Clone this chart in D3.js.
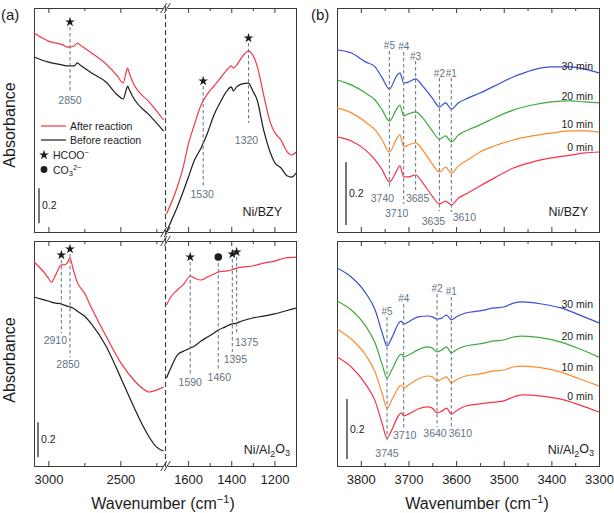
<!DOCTYPE html>
<html><head><meta charset="utf-8">
<script src="https://cdn.jsdelivr.net/npm/d3@7"></script>
<style>body{margin:0;background:#fff}svg{display:block}</style>
</head><body><svg id="c" width="614" height="513"></svg>
<script>
// ---------------- DATA ----------------
// Panel (a) top: Ni/BZY, high-wavenumber segment
const aTopWnL = [3100,3000,2900,2870,2850,2820,2800,2780,2700,2600,2520,2480,2460,2450,2440,2420,2400,2300,2200];
const aTopAfterL = [1.137,1.091,1.069,1.057,1.057,1.063,1.080,1.069,1.023,0.960,0.891,0.851,0.914,0.937,0.914,0.869,0.834,0.743,0.640];
const aTopBeforeL = [1.000,0.971,0.954,0.949,0.949,0.949,0.966,0.954,0.909,0.857,0.783,0.760,0.811,0.834,0.817,0.783,0.754,0.669,0.577];
// Panel (a) top: low-wavenumber segment
const aTopWnR = [1700,1680,1650,1620,1600,1570,1540,1510,1480,1450,1420,1400,1390,1375,1350,1320,1300,1280,1250,1220,1200,1170,1140,1120,1100];
const aTopAfterR = [0.103,0.160,0.257,0.383,0.497,0.617,0.726,0.789,0.834,0.880,0.926,0.949,0.937,0.954,1.000,1.034,1.011,0.949,0.783,0.629,0.571,0.526,0.457,0.440,0.457];
const aTopBeforeR = [0.000,0.057,0.143,0.240,0.309,0.411,0.480,0.566,0.669,0.743,0.806,0.829,0.806,0.829,0.846,0.851,0.806,0.754,0.583,0.457,0.400,0.366,0.320,0.314,0.337];
// Panel (a) bottom: Ni/Al2O3
const aBotWnL = [3100,3050,3000,2980,2950,2910,2890,2870,2850,2830,2800,2750,2700,2600,2500,2400,2350,2300,2250,2200];
const aBotAfterL = [1.166,1.126,1.074,1.051,1.091,1.149,1.149,1.160,1.189,1.131,1.051,0.989,0.903,0.743,0.594,0.486,0.446,0.423,0.434,0.451];
const aBotBeforeL = [0.966,0.954,0.943,0.937,0.931,0.926,0.920,0.914,0.909,0.903,0.886,0.857,0.811,0.686,0.509,0.326,0.240,0.166,0.109,0.086];
const aBotWnR = [1700,1680,1650,1620,1590,1570,1540,1510,1480,1460,1430,1400,1375,1350,1300,1250,1200,1150,1100];
const aBotAfterR = [0.920,0.966,1.006,1.040,1.086,1.074,1.063,1.080,1.097,1.109,1.114,1.120,1.131,1.137,1.143,1.160,1.171,1.189,1.194];
const aBotBeforeR = [0.503,0.560,0.634,0.657,0.674,0.686,0.714,0.737,0.760,0.777,0.794,0.811,0.817,0.829,0.846,0.857,0.869,0.886,0.903];

// Panel (b) top: Ni/BZY, time series
const bTopWn = [3850,3820,3790,3770,3755,3740,3725,3718,3710,3700,3685,3670,3650,3635,3622,3610,3595,3575,3550,3520,3480,3440,3400,3360,3330,3300];
const bTop30 = [0.578,0.568,0.540,0.524,0.489,0.454,0.495,0.505,0.473,0.476,0.486,0.463,0.425,0.397,0.410,0.390,0.410,0.425,0.441,0.463,0.492,0.514,0.524,0.524,0.517,0.505];
const bTop20 = [0.483,0.467,0.441,0.419,0.387,0.352,0.390,0.403,0.368,0.375,0.381,0.362,0.321,0.295,0.305,0.286,0.308,0.324,0.340,0.362,0.387,0.403,0.413,0.416,0.413,0.410];
const bTop10 = [0.394,0.378,0.349,0.324,0.292,0.254,0.295,0.308,0.270,0.276,0.283,0.260,0.216,0.190,0.206,0.187,0.210,0.229,0.254,0.273,0.292,0.305,0.314,0.321,0.321,0.317];
const bTop0  = [0.302,0.289,0.260,0.229,0.197,0.159,0.194,0.210,0.175,0.175,0.181,0.156,0.114,0.089,0.098,0.086,0.108,0.124,0.146,0.171,0.203,0.222,0.235,0.244,0.251,0.254];
// Panel (b) bottom: Ni/Al2O3
const bBotWn = [3850,3820,3790,3770,3755,3745,3735,3720,3715,3710,3700,3680,3660,3650,3640,3630,3620,3610,3600,3580,3550,3520,3500,3480,3460,3420,3380,3340,3300];
const bBot30 = [0.660,0.630,0.577,0.520,0.443,0.400,0.427,0.477,0.483,0.473,0.480,0.497,0.500,0.497,0.490,0.493,0.503,0.487,0.497,0.510,0.517,0.527,0.530,0.543,0.547,0.540,0.527,0.503,0.477];
const bBot20 = [0.550,0.520,0.467,0.410,0.337,0.293,0.320,0.367,0.373,0.363,0.370,0.387,0.397,0.393,0.380,0.387,0.397,0.377,0.387,0.400,0.407,0.417,0.420,0.430,0.433,0.427,0.413,0.390,0.363];
const bBot10 = [0.457,0.423,0.370,0.313,0.240,0.193,0.220,0.263,0.270,0.260,0.270,0.290,0.300,0.297,0.283,0.290,0.297,0.277,0.287,0.300,0.307,0.317,0.320,0.330,0.333,0.327,0.313,0.290,0.267];
const bBot0  = [0.363,0.330,0.273,0.217,0.140,0.093,0.120,0.170,0.177,0.167,0.173,0.190,0.197,0.193,0.177,0.183,0.193,0.173,0.183,0.200,0.207,0.213,0.217,0.230,0.237,0.233,0.223,0.203,0.180];
const timeLabels = ["30 min","20 min","10 min","0 min"];

// Peak annotations
const aTopPeaks = [2850,1530,1320];
const aTopPeakLabels = ["2850","1530","1320"];
const aBotPeaks = [2910,2850,1590,1460,1395,1375];
const aBotPeakLabels = ["2910","2850","1590","1460","1395","1375"];
const aBotPeakSpecies = ["HCOO","HCOO","HCOO","CO3","HCOO","HCOO"];
const bTopPeaks = [3740,3710,3685,3635,3610];
const bTopPeakIds = ["#5","#4","#3","#2","#1"];
const bBotPeaks = [3745,3710,3640,3610];
const bBotPeakIds = ["#5","#4","#2","#1"];

// tick values
const aTicksMajorL = [3000,2500], aTicksMinorL = [2750,2250];
const aTicksMajorR = [1600,1400,1200], aTicksMinorR = [1500,1300];
const bTicksMajor = [3800,3700,3600,3500,3400,3300], bTicksMinor = [3750,3650,3550,3450,3350];

// ---------------- LAYOUT / STYLE ----------------
const FONT = '"Liberation Sans", Arial, Helvetica, sans-serif';
const RED="#f43648", BLK="#1c1c1c", BLUE="#3a4fd2", GREEN="#3cab3c", ORANGE="#fb8b2e", GRAY="#5f7482", DGRAY="#6f7e89", FRAME="#3a3a3a";
const svg = d3.select("#c").attr("font-family", FONT);

const TOPY = [8,232], BOTY = [241,466];
const xAL = d3.scaleLinear().domain([3100,2190]).range([34,165]);
const xAR = d3.scaleLinear().domain([1700,1100]).range([166.5,296]);
const xB  = d3.scaleLinear().domain([3850,3300]).range([337,599]);
const yTL = d3.scaleLinear().domain([0,1.28]).range([232,8]);
const yBL = d3.scaleLinear().domain([0,1.286]).range([466,241]);
const yTR = d3.scaleLinear().domain([0,0.711]).range([232,8]);
const yBR = d3.scaleLinear().domain([0,0.75]).range([466,241]);

function lineOf(x, y, wn, vals, color, w){
  const pts = wn.map((d,i)=>[d, vals[i]]);
  svg.append("path").datum(pts)
    .attr("fill","none").attr("stroke",color).attr("stroke-width",w||1.2)
    .attr("stroke-linejoin","round")
    .attr("d", d3.line().x(d=>x(d[0])).y(d=>y(d[1])).curve(d3.curveMonotoneX));
}

function tickRow(x, yb, yt, majors, minors, showLabels){
  const mk = (vals, size, lab) => {
    const gb = svg.append("g").attr("transform",`translate(0,${yb})`)
      .call(d3.axisBottom(x).tickValues(vals).tickSizeInner(-size).tickSizeOuter(0).tickPadding(9)
        .tickFormat(lab ? d3.format("d") : ""));
    const gt = svg.append("g").attr("transform",`translate(0,${yt})`)
      .call(d3.axisTop(x).tickValues(vals).tickSizeInner(-size).tickSizeOuter(0).tickFormat(""));
    [gb,gt].forEach(g=>{
      g.select(".domain").remove();
      g.selectAll("line").attr("stroke",FRAME).attr("stroke-width",1);
      g.attr("font-family",FONT).attr("font-size",13);
      g.selectAll("text").attr("fill",BLK);
    });
  };
  mk(majors, 5, showLabels);
  mk(minors, 3, false);
}

function frame(x0,x1,y0,y1){
  svg.append("rect").attr("x",x0+0.5).attr("y",y0+0.5).attr("width",x1-x0-1).attr("height",y1-y0-1)
    .attr("fill","none").attr("stroke",FRAME).attr("stroke-width",1);
}

// frames
frame(34,297,TOPY[0],TOPY[1]+1);
frame(34,297,BOTY[0],BOTY[1]+1);
frame(337,600,TOPY[0],TOPY[1]+1);
frame(337,600,BOTY[0],BOTY[1]+1);

// ticks
[[TOPY,false],[BOTY,true]].forEach(([yy,lab])=>{
  tickRow(xAL, yy[1], yy[0], aTicksMajorL, aTicksMinorL, lab);
  tickRow(xAR, yy[1], yy[0], aTicksMajorR, aTicksMinorR, lab);
  tickRow(xB, yy[1], yy[0], bTicksMajor, bTicksMinor, lab);
});

// break marks + dashed vertical
const BX = 165.5;
[TOPY[0],TOPY[1],BOTY[0],BOTY[1]].forEach(e=>{
  svg.append("rect").attr("x",BX-2.5).attr("y",e-1.5).attr("width",5).attr("height",3).attr("fill","#fff");
  [-1.8,1.8].forEach(o=>{
    svg.append("line").attr("x1",BX+o-3).attr("y1",e+5).attr("x2",BX+o+3).attr("y2",e-5)
      .attr("stroke",FRAME).attr("stroke-width",1);
  });
});
svg.append("line").attr("x1",BX).attr("x2",BX).attr("y1",6).attr("y2",467)
  .attr("stroke","#444").attr("stroke-width",1.2).attr("stroke-dasharray","5,3");

// ---------- panel (a) curves ----------
lineOf(xAL,yTL,aTopWnL,aTopBeforeL,BLK); lineOf(xAL,yTL,aTopWnL,aTopAfterL,RED);
lineOf(xAR,yTL,aTopWnR,aTopBeforeR,BLK); lineOf(xAR,yTL,aTopWnR,aTopAfterR,RED);
lineOf(xAL,yBL,aBotWnL,aBotBeforeL,BLK); lineOf(xAL,yBL,aBotWnL,aBotAfterL,RED);
lineOf(xAR,yBL,aBotWnR,aBotBeforeR,BLK); lineOf(xAR,yBL,aBotWnR,aBotAfterR,RED);

// ---------- panel (b) curves ----------
const bColors = [BLUE,GREEN,ORANGE,RED];
[bTop30,bTop20,bTop10,bTop0].forEach((v,i)=>lineOf(xB,yTR,bTopWn,v,bColors[i]));
[bBot30,bBot20,bBot10,bBot0].forEach((v,i)=>lineOf(xB,yBR,bBotWn,v,bColors[i]));

// ---------- markers ----------
const star = d3.symbol().type(d3.symbolStar).size(30);
function drawStar(cx,cy){ svg.append("path").attr("d",star()).attr("transform",`translate(${cx},${cy})`).attr("fill",BLK); }
function drawDot(cx,cy,r){ svg.append("circle").attr("cx",cx).attr("cy",cy).attr("r",r).attr("fill",BLK); }
function vdash(x,y1,y2){ svg.append("line").attr("x1",x).attr("x2",x).attr("y1",y1).attr("y2",y2)
  .attr("stroke",DGRAY).attr("stroke-width",1.1).attr("stroke-dasharray","3.5,2.5"); }
function label(x,y,t,opt){ opt=opt||{};
  return svg.append("text").attr("x",x).attr("y",y).attr("dy","0.35em").attr("text-anchor",opt.anchor||"middle")
    .attr("font-size",opt.size||10.5).attr("fill",opt.fill||GRAY).text(t); }

const xA = wn => wn > 2000 ? xAL(wn) : xAR(wn);

// (a) top annotations layout: [markY, lineTop, lineBottom, labelY, labelDx]
const aTopLay = [[22,27,93,100,0],[81,86,187,194,-1],[38,43,123,140,-2]];
aTopPeaks.forEach((wn,i)=>{
  const L=aTopLay[i], x=xA(wn);
  drawStar(x,L[0]); vdash(x,L[1],L[2]); label(x+L[4],L[3],aTopPeakLabels[i]);
});
const aBotLay = [[255,260,333,340,-6],[249,254,357,364,-2],[257,262,375,382,0],[257,263,370,377,1],[254,259,352,359,3],[252,257,335,342,10]];
aBotPeaks.forEach((wn,i)=>{
  const L=aBotLay[i], x=xA(wn);
  if(aBotPeakSpecies[i]==="CO3") drawDot(x,L[0],3.8); else drawStar(x,L[0]);
  vdash(x,L[1],L[2]); label(x+L[4],L[3],aBotPeakLabels[i]);
});

// (b) annotations: [idY, lineTop, lineBottom, wnLabelY, wnLabelDx]
const bTopLay = [[45,51,188,198,-7],[46,52,204,213,-7],[56,61,190,198,2],[73,78,211,221,-6],[73,78,212,217,13]];
bTopPeaks.forEach((wn,i)=>{
  const L=bTopLay[i], x=xB(wn);
  label(x,L[0],bTopPeakIds[i],{size:10}); vdash(x,L[1],L[2]); label(x+L[4],L[3],String(wn));
});
const bBotLay = [[311,317,440,453,0],[298,304,428,435,1],[288,294,427,433,-2],[291,297,427,433,9]];
bBotPeaks.forEach((wn,i)=>{
  const L=bBotLay[i], x=xB(wn);
  label(x,L[0],bBotPeakIds[i],{size:10}); vdash(x,L[1],L[2]); label(x+L[4],L[3],String(wn));
});

// time labels
const tTopY=[66,96,124,147], tBotY=[304,336,367,396];
timeLabels.forEach((t,i)=>{
  label(593,tTopY[i],t,{anchor:"end",fill:BLK});
  label(593,tBotY[i],t,{anchor:"end",fill:BLK});
});

// scale bars (0.2 absorbance)
function scaleBar(x,y,lo){
  svg.append("line").attr("x1",x).attr("x2",x).attr("y1",y(lo)).attr("y2",y(lo+0.2)).attr("stroke",BLK).attr("stroke-width",1.2);
  label(x+3,(y(lo)+y(lo+0.2))/2,"0.2",{anchor:"start",fill:BLK,size:10.5});
}
scaleBar(39,yTL,0.05); scaleBar(38,yBL,0.05); scaleBar(346,yTR,0.022); scaleBar(347,yBR,0.023);

// sample names
label(282,212,"Ni/BZY",{anchor:"end",fill:BLK,size:12.5});
label(588,212,"Ni/BZY",{anchor:"end",fill:BLK,size:12.5});
function niAl(xe,y){
  const t = svg.append("text").attr("x",xe).attr("y",y).attr("dy","0.35em").attr("text-anchor","end").attr("font-size",12.5).attr("fill",BLK);
  t.append("tspan").text("Ni/Al");
  t.append("tspan").attr("font-size",9).attr("dy","0.3em").text("2");
  t.append("tspan").attr("dy","-0.3em").text("O");
  t.append("tspan").attr("font-size",9).attr("dy","0.3em").text("3");
}
niAl(290,450); niAl(594,450);

// legend
svg.append("line").attr("x1",41).attr("x2",66).attr("y1",126).attr("y2",126).attr("stroke",RED).attr("stroke-width",1.2);
label(70,126,"After reaction",{anchor:"start",fill:BLK});
svg.append("line").attr("x1",41).attr("x2",66).attr("y1",140).attr("y2",140).attr("stroke",BLK).attr("stroke-width",1.2);
label(70,140,"Before reaction",{anchor:"start",fill:BLK});
drawStar(44,155);
{ const t = svg.append("text").attr("x",53).attr("y",155).attr("dy","0.35em").attr("font-size",10.5).attr("fill",BLK);
  t.append("tspan").text("HCOO"); t.append("tspan").attr("font-size",7.5).attr("dy","-0.45em").text("−"); }
drawDot(44,169.5,3.4);
{ const t = svg.append("text").attr("x",53).attr("y",170).attr("dy","0.35em").attr("font-size",10.5).attr("fill",BLK);
  t.append("tspan").text("CO"); t.append("tspan").attr("font-size",7.5).attr("dy","0.3em").text("3");
  t.append("tspan").attr("font-size",7.5).attr("dy","-0.8em").text("2−"); }

// axis titles
["(a)","(b)"].forEach((t,i)=>svg.append("text").attr("x",i?311:1).attr("y",20).attr("font-size",15).attr("fill",BLK).text(t));
[125,360].forEach(cy=>svg.append("text").attr("transform",`translate(15,${cy}) rotate(-90)`).attr("text-anchor","middle")
  .attr("font-size",16).attr("fill",BLK).text("Absorbance"));
[163,477].forEach(cx=>{
  const t = svg.append("text").attr("x",cx).attr("y",509).attr("text-anchor","middle").attr("font-size",16).attr("fill",BLK);
  t.append("tspan").text("Wavenumber (cm");
  t.append("tspan").attr("font-size",11).attr("dy","-0.55em").text("−1");
  t.append("tspan").attr("dy","0.35em").text(")");
});
</script></body></html>
